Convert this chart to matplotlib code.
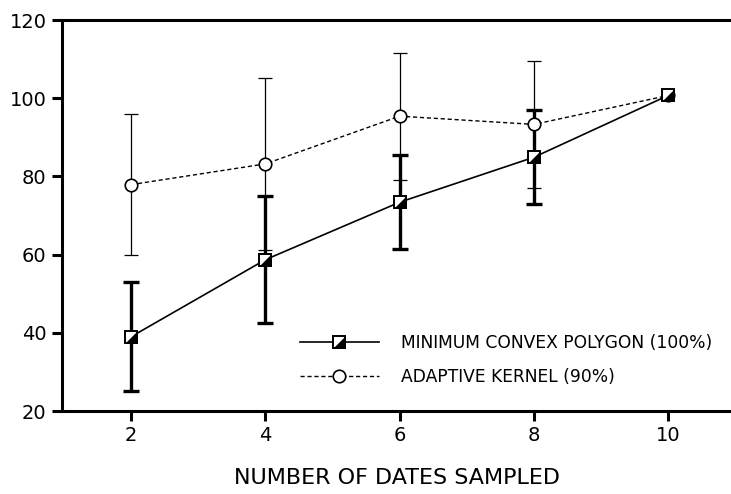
import matplotlib
matplotlib.use("Agg")
import matplotlib.pyplot as plt
from matplotlib.legend_handler import HandlerTuple

# ----------
# Data
# ----------
dates = [2, 4, 6, 8, 10]

mcp_mean = [39, 58.7, 73.4, 84.9, 100.7]
mcp_err = [14, 16.3, 12, 12, 0]

ak_mean = [77.9, 83.2, 95.4, 93.3, 100.7]
ak_err = [18, 22, 16.2, 16.3, 0]

y_ticks = [20, 40, 60, 80, 100, 120]
x_ticks = [2, 4, 6, 8, 10]

mcp_label = "MINIMUM CONVEX POLYGON (100%)"
ak_label = "ADAPTIVE KERNEL (90%)"
x_title = "NUMBER OF DATES SAMPLED"

plt.rcParams["font.family"] = ["DejaVu Sans"]

fig = plt.figure(figsize=(7.31, 4.94), dpi=100)
# axes runs off the right edge of the figure, like the scanned original
ax = fig.add_axes([62 / 731, 83 / 494, 0.967, 391 / 494])

# error bars (no markers yet)
ax.errorbar(dates[:4], ak_mean[:4], yerr=ak_err[:4], fmt="none",
            ecolor="black", elinewidth=0.9, capsize=5, capthick=0.9, zorder=2)
ax.errorbar(dates[:4], mcp_mean[:4], yerr=mcp_err[:4], fmt="none",
            ecolor="black", elinewidth=2.4, capsize=6, capthick=2.4, zorder=2)

# adaptive kernel, dashed with open circles
ak_line, = ax.plot(dates, ak_mean, linestyle=(0, (3, 2)), color="black",
                   linewidth=1, marker="o", markersize=9,
                   markerfacecolor="white", markeredgecolor="black",
                   markeredgewidth=1.2, zorder=3)

# minimum convex polygon, solid with half filled squares
mcp_line, = ax.plot(dates, mcp_mean, linestyle="-", color="black",
                    linewidth=1.2, marker="s", markersize=9,
                    markerfacecolor="white", markeredgecolor="black",
                    markeredgewidth=1.4, zorder=4)
tri = [(-1, -1), (1, -1), (1, 1)]
mcp_fill, = ax.plot(dates, mcp_mean, linestyle="none", marker=tri,
                    markersize=9, markerfacecolor="black",
                    markeredgecolor="black", markeredgewidth=0.5, zorder=5)

ax.set_xlim(0.97, 11.5)
ax.set_ylim(20, 120)
ax.set_xticks(x_ticks)
ax.set_yticks(y_ticks)
ax.tick_params(axis="both", direction="out", length=7, width=2.2,
               labelsize=14, pad=4)

for side in ["left", "bottom", "top"]:
    ax.spines[side].set_linewidth(2.2)
ax.spines["right"].set_visible(False)

fig.text(397 / 731, 16 / 494, x_title, ha="center", va="center", fontsize=16)

leg = fig.legend([(mcp_line, mcp_fill), ak_line], [mcp_label, ak_label],
                 handler_map={tuple: HandlerTuple(ndivide=1, pad=0)},
                 loc="upper left", bbox_to_anchor=(300 / 731, 1 - 334 / 494),
                 frameon=False, fontsize=12.3, handlelength=4.6,
                 handletextpad=1.3, labelspacing=0.95, borderpad=0,
                 borderaxespad=0)

fig.savefig("out.png", dpi=100)
